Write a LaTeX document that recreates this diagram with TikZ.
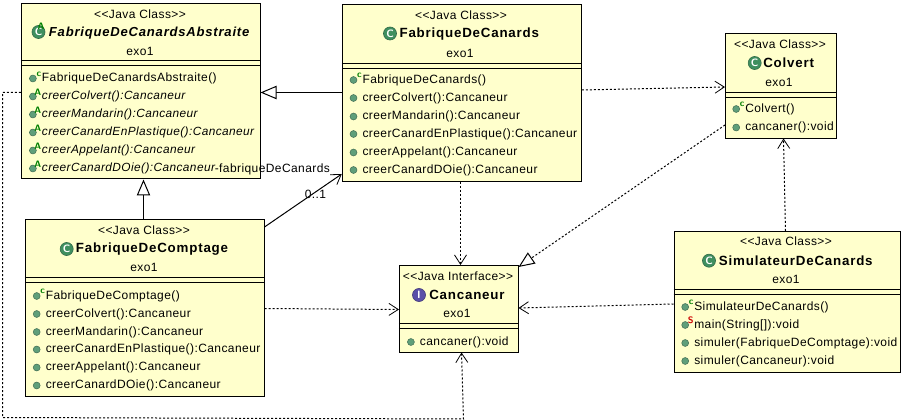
\documentclass[tikz,border=0pt]{standalone}
\usepackage{fontspec}
\setmainfont{Liberation Sans}
\usepackage{xcolor}
\usetikzlibrary{arrows.meta, positioning}
\definecolor{classfill}{HTML}{FFFFCC}
\definecolor{dotgreen}{HTML}{5F9F7A}
\definecolor{icongreen}{HTML}{3F8F5F}
\definecolor{iconpurple}{HTML}{5A4FA8}
\newfontfamily\rowfont[LetterSpace=3.5]{Liberation Sans}
\newfontfamily\titlefont[LetterSpace=6]{Liberation Sans}
\tikzset{
    classnode/.style = {draw=black, fill=classfill, rectangle, inner sep = 0em, line width=0.75pt},
    textnode/.style  = {draw=none, fill=none, rectangle, inner sep = 0em, font=\rowfont\fontsize{9pt}{10pt}\selectfont},
    titlenode/.style = {textnode, anchor=west, font=\titlefont\fontsize{10pt}{11pt}\selectfont\bfseries},
    iconnode/.style  = {circle, draw=icongreen!70!black, fill=icongreen, minimum size=9.8pt, inner sep=0pt, text=white, font=\sffamily\bfseries\fontsize{8pt}{8pt}\selectfont},
    dotnode/.style   = {circle, draw=dotgreen!70!black, fill=dotgreen, minimum size=5.2pt, inner sep=0pt},
    markernode/.style= {text=green!50!black, font=\sffamily\bfseries\fontsize{7pt}{7pt}\selectfont, xshift=-0.2pt, yshift=3.4pt, inner sep=0pt},
    rownode/.style   = {textnode, anchor=west, label={[dotnode, label distance=3.8pt]left:{}}},
    ctornode/.style  = {rownode, label={[markernode]left:c}},
    absnode/.style   = {rownode, font=\rowfont\fontsize{8.9pt}{10pt}\selectfont\itshape, label={[markernode]left:A}},
    staticnode/.style= {rownode, label={[markernode, text=red!80!black]left:S}},
    sepline/.style   = {black, line width=0.75pt},
    assoc/.style     = {black, line width=0.75pt, -{Straight Barb[length=7pt,width=9pt,line width=0.6pt]}},
    depend/.style    = {assoc, dash pattern=on 1.5pt off 1.5pt},
    inherit/.style   = {black, line width=0.75pt, -{Triangle[open,length=12pt,width=10pt,fill=white]}},
    realize/.style   = {inherit, dash pattern=on 1.5pt off 1.5pt}
}
\begin{document}
\begin{tikzpicture}[x=0.75pt, y=-0.75pt]
    \useasboundingbox (0,0) rectangle (904,420);
    % class boxes
    \node[classnode, name=Abs, minimum width=178.9pt, minimum height=131.6pt] at (140.75,91.25) {};
    \node[classnode, name=Canards, minimum width=179.3pt, minimum height=132.4pt] at (461.8,92.8) {};
    \node[classnode, name=Comptage, minimum width=178.9pt, minimum height=132.4pt] at (144.75,307.75) {};
    \node[classnode, name=Cancaneur, minimum width=88.9pt, minimum height=64.9pt] at (458.75,308.75) {};
    \node[classnode, name=Colvert, minimum width=83.6pt, minimum height=78.4pt] at (781.25,85.75) {};
    \node[classnode, name=Simulateur, minimum width=169.5pt, minimum height=105.4pt] at (787,301.75) {};
    % compartments
    \draw[sepline] (Abs.west |- 0,61) -- (Abs.east |- 0,61);
    \draw[sepline] (Abs.west |- 0,66) -- (Abs.east |- 0,66);
    \draw[sepline] (Canards.west |- 0,63.5) -- (Canards.east |- 0,63.5);
    \draw[sepline] (Canards.west |- 0,68.5) -- (Canards.east |- 0,68.5);
    \draw[sepline] (Comptage.west |- 0,278) -- (Comptage.east |- 0,278);
    \draw[sepline] (Comptage.west |- 0,283) -- (Comptage.east |- 0,283);
    \draw[sepline] (Cancaneur.west |- 0,324) -- (Cancaneur.east |- 0,324);
    \draw[sepline] (Cancaneur.west |- 0,329) -- (Cancaneur.east |- 0,329);
    \draw[sepline] (Colvert.west |- 0,92.5) -- (Colvert.east |- 0,92.5);
    \draw[sepline] (Colvert.west |- 0,97.5) -- (Colvert.east |- 0,97.5);
    \draw[sepline] (Simulateur.west |- 0,290) -- (Simulateur.east |- 0,290);
    \draw[sepline] (Simulateur.west |- 0,295) -- (Simulateur.east |- 0,295);
    % FabriqueDeCanardsAbstraite
    \node[textnode, name=AbsS] at (140,14.5) {<{}<Java Class>{}>};
    \node[iconnode, name=AbsI, label={[markernode, xshift=10pt, yshift=0.6pt]left:A}] at (38.5,32) {C};
    \node[titlenode, name=AbsT, font=\titlefont\fontsize{9.8pt}{11pt}\selectfont\bfseries\itshape] at (48.7,33) {FabriqueDeCanardsAbstraite};
    \node[textnode, name=AbsP] at (140,51) {exo1};
    \node[ctornode, name=AbsM1] at (41.7,78.5) {FabriqueDeCanardsAbstraite()};
    \node[absnode, name=AbsM2] at (41.7,96.5) {creerColvert():Cancaneur};
    \node[absnode, name=AbsM3] at (41.7,114.5) {creerMandarin():Cancaneur};
    \node[absnode, name=AbsM4] at (41.7,132.5) {creerCanardEnPlastique():Cancaneur};
    \node[absnode, name=AbsM5] at (41.7,150.5) {creerAppelant():Cancaneur};
    \node[absnode, name=AbsM6] at (41.7,168.5) {creerCanardDOie():Cancaneur};
    % FabriqueDeCanards
    \node[textnode, name=CanardsS] at (461,15.5) {<{}<Java Class>{}>};
    \node[iconnode, name=CanardsI] at (390,33.5) {C};
    \node[titlenode, name=CanardsT] at (399.3,33.7) {FabriqueDeCanards};
    \node[textnode, name=CanardsP] at (460,53) {exo1};
    \node[ctornode, name=CanardsM1] at (362.3,80) {FabriqueDeCanards()};
    \node[rownode, name=CanardsM2] at (362.3,98) {creerColvert():Cancaneur};
    \node[rownode, name=CanardsM3] at (362.3,116.5) {creerMandarin():Cancaneur};
    \node[rownode, name=CanardsM4] at (362.3,134) {creerCanardEnPlastique():Cancaneur};
    \node[rownode, name=CanardsM5] at (362.3,152.5) {creerAppelant():Cancaneur};
    \node[rownode, name=CanardsM6] at (362.3,170) {creerCanardDOie():Cancaneur};
    % FabriqueDeComptage
    \node[textnode, name=ComptageS] at (144,230) {<{}<Java Class>{}>};
    \node[iconnode, name=ComptageI] at (66.7,249) {C};
    \node[titlenode, name=ComptageT] at (75.7,249) {FabriqueDeComptage};
    \node[textnode, name=ComptageP] at (144,267.7) {exo1};
    \node[ctornode, name=ComptageM1] at (45.5,296) {FabriqueDeComptage()};
    \node[rownode, name=ComptageM2] at (45.5,314) {creerColvert():Cancaneur};
    \node[rownode, name=ComptageM3] at (45.5,332) {creerMandarin():Cancaneur};
    \node[rownode, name=ComptageM4] at (45.5,349.5) {creerCanardEnPlastique():Cancaneur};
    \node[rownode, name=ComptageM5] at (45.5,367.5) {creerAppelant():Cancaneur};
    \node[rownode, name=ComptageM6] at (45.5,385.5) {creerCanardDOie():Cancaneur};
    % Cancaneur
    \node[textnode, name=CancaneurS] at (458,276.7) {<{}<Java Interface>{}>};
    \node[iconnode, name=CancaneurI, draw=iconpurple!70!black, fill=iconpurple] at (419,295) {I};
    \node[titlenode, name=CancaneurT] at (429,295) {Cancaneur};
    \node[textnode, name=CancaneurP] at (457,313.7) {exo1};
    \node[rownode, name=CancaneurM1] at (419.7,342) {cancaner():void};
    % Colvert
    \node[textnode, name=ColvertS] at (780,44) {<{}<Java Class>{}>};
    \node[iconnode, name=ColvertI] at (754.7,63) {C};
    \node[titlenode, name=ColvertT] at (763,63) {Colvert};
    \node[textnode, name=ColvertP] at (779,82) {exo1};
    \node[ctornode, name=ColvertM1] at (745,109) {Colvert()};
    \node[rownode, name=ColvertM2] at (745,127.5) {cancaner():void};
    % SimulateurDeCanards
    \node[textnode, name=SimulateurS] at (786,241.7) {<{}<Java Class>{}>};
    \node[iconnode, name=SimulateurI] at (709,260.7) {C};
    \node[titlenode, name=SimulateurT] at (718.7,260.7) {SimulateurDeCanards};
    \node[textnode, name=SimulateurP] at (786,279.7) {exo1};
    \node[ctornode, name=SimulateurM1] at (694,307) {SimulateurDeCanards()};
    \node[staticnode, name=SimulateurM2] at (694,325) {main(String[]):void};
    \node[rownode, name=SimulateurM3] at (694,343) {simuler(FabriqueDeComptage):void};
    \node[rownode, name=SimulateurM4] at (694,361) {simuler(Cancaneur):void};
    % corner points of the long dependency
    \coordinate (LoopA) at (2.5,92.5);
    \coordinate (LoopB) at (2.5,417.5);
    \coordinate (LoopC) at (463.5,419);
    % connectors
    \draw[inherit] (Canards.west |- 0,92.5) -- (Abs.east |- 0,92.5);
    \draw[inherit] (Comptage.north -| 143.5,0) -- (Abs.south -| 143.5,0);
    \draw[assoc] (Comptage.east |- 0,227) -- (Canards.west |- 0,174)
        node[textnode, name=AssocM, pos=0.66, yshift=-2pt] {0..1};
    \node[textnode, name=AssocR, anchor=west] at (214.5,169) {-fabriqueDeCanards};
    \draw[depend] (Canards.east |- 0,90) -- (Colvert.west |- 0,87);
    \draw[depend] (Canards.south -| 460.5,0) -- (Cancaneur.north -| 460.5,0);
    \draw[realize] (Colvert.west |- 0,125) -- (Cancaneur.east |- 0,267);
    \draw[depend] (Simulateur.north -| 785.5,0) -- (Colvert.south -| 783.5,0);
    \draw[depend] (Simulateur.west |- 0,304) -- (Cancaneur.east |- 0,308);
    \draw[depend] (Comptage.east |- 0,308.5) -- (Cancaneur.west |- 0,309.5);
    \draw[depend] (Abs.west |- LoopA) -- (LoopA) -- (LoopB) -- (LoopC) -- (Cancaneur.south -| 461.5,0);
\end{tikzpicture}
\end{document}
